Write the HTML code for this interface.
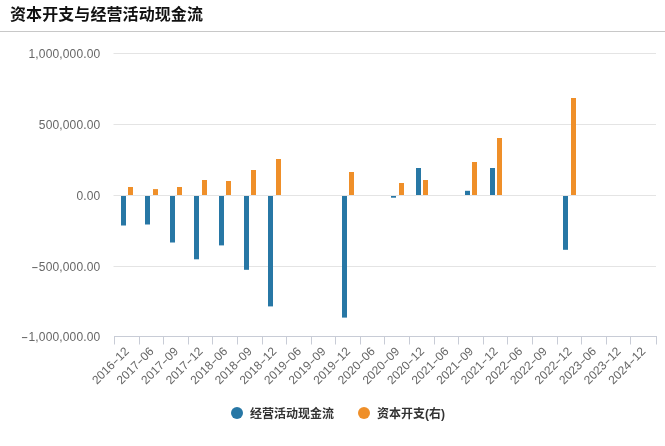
<!DOCTYPE html>
<html lang="zh"><head><meta charset="utf-8"><title>资本开支与经营活动现金流</title>
<style>
html,body{margin:0;padding:0;background:#fff;}
body{width:665px;height:446px;overflow:hidden;position:relative;font-family:"Liberation Sans","Noto Sans CJK SC",sans-serif;}
h1{position:absolute;left:10px;top:4px;margin:0;font-size:16px;line-height:22px;font-weight:bold;color:#111;letter-spacing:0.08px;white-space:nowrap;}
.hr{position:absolute;left:0;top:31px;width:665px;height:1px;background:#c8c8c8;}
svg{position:absolute;left:0;top:0;}
svg text{font-family:"Liberation Sans","Noto Sans CJK SC",sans-serif;}
.yl{font-size:12px;fill:#666;text-anchor:end;letter-spacing:0.15px;}
.xl{font-size:12px;fill:#666;text-anchor:end;}
.lg{font-size:12px;font-weight:bold;fill:#333;}
</style></head><body>
<h1>资本开支与经营活动现金流</h1>
<div class="hr"></div>
<svg width="665" height="446" viewBox="0 0 665 446">

<path d="M113.5 53.50H656.0" stroke="#e4e4e4" stroke-width="1" fill="none"/>
<text class="yl" x="100.4" y="57.9">1,000,000.00</text>
<path d="M113.5 124.50H656.0" stroke="#e4e4e4" stroke-width="1" fill="none"/>
<text class="yl" x="100.4" y="128.9">500,000.00</text>
<path d="M113.5 195.50H656.0" stroke="#e4e4e4" stroke-width="1" fill="none"/>
<text class="yl" x="100.4" y="199.9">0.00</text>
<path d="M113.5 266.50H656.0" stroke="#e4e4e4" stroke-width="1" fill="none"/>
<text class="yl" x="100.4" y="270.9"><tspan textLength="7.5" lengthAdjust="spacingAndGlyphs">-</tspan>500,000.00</text>
<text class="yl" x="100.4" y="340.5"><tspan textLength="7.5" lengthAdjust="spacingAndGlyphs">-</tspan>1,000,000.00</text>
<path d="M114.0 336.5H657.0" stroke="#c8ccd6" stroke-width="1" fill="none"/>
<path d="M114.5 336.5V344.5M139.5 336.5V344.5M163.5 336.5V344.5M188.5 336.5V344.5M212.5 336.5V344.5M237.5 336.5V344.5M262.5 336.5V344.5M286.5 336.5V344.5M311.5 336.5V344.5M335.5 336.5V344.5M360.5 336.5V344.5M384.5 336.5V344.5M409.5 336.5V344.5M434.5 336.5V344.5M458.5 336.5V344.5M483.5 336.5V344.5M507.5 336.5V344.5M532.5 336.5V344.5M557.5 336.5V344.5M581.5 336.5V344.5M606.5 336.5V344.5M630.5 336.5V344.5M656.5 336.5V344.5" stroke="#c8ccd6" stroke-width="1" fill="none"/>
<rect x="121" y="196" width="5" height="29.5" fill="#2777a5"/>
<rect x="128" y="187" width="5" height="8.0" fill="#ef8f29"/>
<rect x="145" y="196" width="5" height="28.5" fill="#2777a5"/>
<rect x="153" y="189.1" width="5" height="5.9" fill="#ef8f29"/>
<rect x="170" y="196" width="5" height="46.5" fill="#2777a5"/>
<rect x="177" y="187" width="5" height="8.0" fill="#ef8f29"/>
<rect x="194" y="196" width="5" height="63.3" fill="#2777a5"/>
<rect x="202" y="180" width="5" height="15.0" fill="#ef8f29"/>
<rect x="219" y="196" width="5" height="49.4" fill="#2777a5"/>
<rect x="226" y="181" width="5" height="14.0" fill="#ef8f29"/>
<rect x="244" y="196" width="5" height="73.8" fill="#2777a5"/>
<rect x="251" y="170" width="5" height="25.0" fill="#ef8f29"/>
<rect x="268" y="196" width="5" height="110.4" fill="#2777a5"/>
<rect x="276" y="159" width="5" height="36.0" fill="#ef8f29"/>
<rect x="342" y="196" width="5" height="121.6" fill="#2777a5"/>
<rect x="349" y="172" width="5" height="23.0" fill="#ef8f29"/>
<rect x="391" y="196" width="5" height="1.7" fill="#2777a5"/>
<rect x="399" y="183" width="5" height="12.0" fill="#ef8f29"/>
<rect x="416" y="168" width="5" height="27.0" fill="#2777a5"/>
<rect x="423" y="180" width="5" height="15.0" fill="#ef8f29"/>
<rect x="465" y="190.8" width="5" height="4.2" fill="#2777a5"/>
<rect x="472" y="162" width="5" height="33.0" fill="#ef8f29"/>
<rect x="490" y="168" width="5" height="27.0" fill="#2777a5"/>
<rect x="497" y="138" width="5" height="57.0" fill="#ef8f29"/>
<rect x="563" y="196" width="5" height="53.8" fill="#2777a5"/>
<rect x="571" y="98" width="5" height="97.0" fill="#ef8f29"/>
<text class="xl" transform="translate(129.8,352) rotate(-45)">2016<tspan textLength="6.5" lengthAdjust="spacingAndGlyphs">-</tspan>12</text>
<text class="xl" transform="translate(154.4,352) rotate(-45)">2017<tspan textLength="6.5" lengthAdjust="spacingAndGlyphs">-</tspan>06</text>
<text class="xl" transform="translate(179.0,352) rotate(-45)">2017<tspan textLength="6.5" lengthAdjust="spacingAndGlyphs">-</tspan>09</text>
<text class="xl" transform="translate(203.6,352) rotate(-45)">2017<tspan textLength="6.5" lengthAdjust="spacingAndGlyphs">-</tspan>12</text>
<text class="xl" transform="translate(228.2,352) rotate(-45)">2018<tspan textLength="6.5" lengthAdjust="spacingAndGlyphs">-</tspan>06</text>
<text class="xl" transform="translate(252.7,352) rotate(-45)">2018<tspan textLength="6.5" lengthAdjust="spacingAndGlyphs">-</tspan>09</text>
<text class="xl" transform="translate(277.3,352) rotate(-45)">2018<tspan textLength="6.5" lengthAdjust="spacingAndGlyphs">-</tspan>12</text>
<text class="xl" transform="translate(301.9,352) rotate(-45)">2019<tspan textLength="6.5" lengthAdjust="spacingAndGlyphs">-</tspan>06</text>
<text class="xl" transform="translate(326.5,352) rotate(-45)">2019<tspan textLength="6.5" lengthAdjust="spacingAndGlyphs">-</tspan>09</text>
<text class="xl" transform="translate(351.1,352) rotate(-45)">2019<tspan textLength="6.5" lengthAdjust="spacingAndGlyphs">-</tspan>12</text>
<text class="xl" transform="translate(375.7,352) rotate(-45)">2020<tspan textLength="6.5" lengthAdjust="spacingAndGlyphs">-</tspan>06</text>
<text class="xl" transform="translate(400.3,352) rotate(-45)">2020<tspan textLength="6.5" lengthAdjust="spacingAndGlyphs">-</tspan>09</text>
<text class="xl" transform="translate(424.9,352) rotate(-45)">2020<tspan textLength="6.5" lengthAdjust="spacingAndGlyphs">-</tspan>12</text>
<text class="xl" transform="translate(449.5,352) rotate(-45)">2021<tspan textLength="6.5" lengthAdjust="spacingAndGlyphs">-</tspan>06</text>
<text class="xl" transform="translate(474.1,352) rotate(-45)">2021<tspan textLength="6.5" lengthAdjust="spacingAndGlyphs">-</tspan>09</text>
<text class="xl" transform="translate(498.6,352) rotate(-45)">2021<tspan textLength="6.5" lengthAdjust="spacingAndGlyphs">-</tspan>12</text>
<text class="xl" transform="translate(523.2,352) rotate(-45)">2022<tspan textLength="6.5" lengthAdjust="spacingAndGlyphs">-</tspan>06</text>
<text class="xl" transform="translate(547.8,352) rotate(-45)">2022<tspan textLength="6.5" lengthAdjust="spacingAndGlyphs">-</tspan>09</text>
<text class="xl" transform="translate(572.4,352) rotate(-45)">2022<tspan textLength="6.5" lengthAdjust="spacingAndGlyphs">-</tspan>12</text>
<text class="xl" transform="translate(597.0,352) rotate(-45)">2023<tspan textLength="6.5" lengthAdjust="spacingAndGlyphs">-</tspan>06</text>
<text class="xl" transform="translate(621.6,352) rotate(-45)">2023<tspan textLength="6.5" lengthAdjust="spacingAndGlyphs">-</tspan>12</text>
<text class="xl" transform="translate(646.2,352) rotate(-45)">2024<tspan textLength="6.5" lengthAdjust="spacingAndGlyphs">-</tspan>12</text>
<circle cx="237" cy="413" r="6" fill="#2777a5"/><text class="lg" x="250" y="417.5">经营活动现金流</text>
<circle cx="364" cy="413" r="6" fill="#ef8f29"/><text class="lg" x="377" y="417.5">资本开支(右)</text>
</svg></body></html>
